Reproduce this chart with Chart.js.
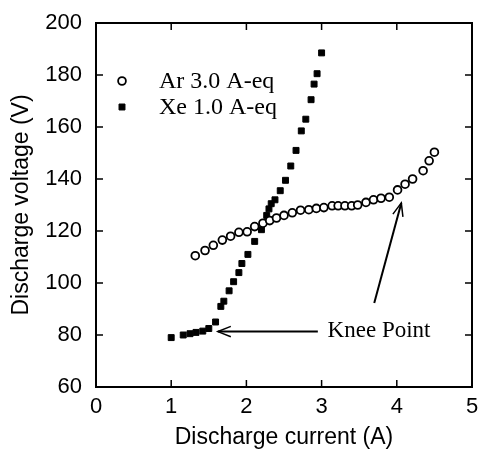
<!DOCTYPE html>
<html>
<head>
<meta charset="utf-8">
<script src="https://cdn.jsdelivr.net/npm/chart.js@4.4.0/dist/chart.umd.min.js"></script>
<style>
  html, body { margin: 0; padding: 0; background: #fff; }
  #wrap { width: 479px; height: 452px; position: relative; }
</style>
</head>
<body>
<div id="wrap"><canvas id="dischargeChart"></canvas></div>
<script>
// Ar 3.0 A-eq (open circles)
const arCurrent = [1.32, 1.45, 1.56, 1.68, 1.79, 1.90, 2.01, 2.11, 2.22, 2.31, 2.40, 2.50, 2.61, 2.72, 2.83, 2.93,
                   3.03, 3.14, 3.22, 3.31, 3.40, 3.48, 3.59, 3.69, 3.79, 3.90, 4.01, 4.11, 4.21, 4.35, 4.43, 4.50];
const arVoltage = [110.5, 112.5, 114.5, 116.5, 118, 119.5, 119.7, 121.7, 123, 124, 125, 126, 127, 128, 128.2, 128.7,
                   129, 129.7, 129.7, 129.7, 129.7, 130, 131, 132, 132.6, 133, 135.8, 138, 140, 143.2, 147, 150.3];

// Xe 1.0 A-eq (filled squares)
const xeCurrent = [1.00, 1.16, 1.25, 1.33, 1.42, 1.50, 1.59, 1.66, 1.70, 1.77, 1.83, 1.90, 1.94, 2.02, 2.11,
                   2.20, 2.27, 2.30, 2.33, 2.38, 2.45, 2.52, 2.59, 2.66, 2.73, 2.79, 2.86, 2.90, 2.94, 3.00];
const xeVoltage = [79, 80, 80.5, 81, 81.5, 82.5, 85, 91, 93, 97, 100.5, 104, 107.5, 111, 116,
                   120.5, 126, 128.5, 130.5, 132, 135.5, 139.5, 145, 151, 158.5, 163, 170.5, 176.5, 180.5, 188.5];

const seriesLabels = ['Ar 3.0 A-eq', 'Xe 1.0 A-eq'];
const xTicks = [0, 1, 2, 3, 4, 5];
const yTicks = [60, 80, 100, 120, 140, 160, 180, 200];

// "Knee Point" annotation, in data units
const kneeText = 'Knee Point';
const kneeTextPos = [3.08, 82.5];
const kneeArrowXe = [[2.95, 81.3], [1.62, 81.3]];   // from, to
const kneeArrowAr = [[3.70, 92.3], [4.06, 130.8]];

function toPoints(xs, ys) {
    return xs.map((x, i) => ({ x: x, y: ys[i] }));
}

// Frame, inward ticks, legend and annotation
const decorPlugin = {
    id: 'decor',
    afterDraw(chart) {
        const ctx = chart.ctx;
        const area = chart.chartArea;
        const xs = chart.scales.x;
        const ys = chart.scales.y;
        ctx.save();
        ctx.strokeStyle = '#000';
        ctx.lineWidth = 2;
        ctx.strokeRect(area.left, area.top, area.right - area.left, area.bottom - area.top);

        // inner tick marks on all four sides
        ctx.lineWidth = 1.5;
        const tl = 7;
        ctx.beginPath();
        xTicks.forEach(v => {
            const px = xs.getPixelForValue(v);
            ctx.moveTo(px, area.bottom); ctx.lineTo(px, area.bottom - tl);
            ctx.moveTo(px, area.top); ctx.lineTo(px, area.top + tl);
        });
        yTicks.forEach(v => {
            const py = ys.getPixelForValue(v);
            ctx.moveTo(area.left, py); ctx.lineTo(area.left + tl, py);
            ctx.moveTo(area.right, py); ctx.lineTo(area.right - tl, py);
        });
        ctx.stroke();

        // legend inside plot
        ctx.font = '24px "Liberation Serif", "Times New Roman", serif';
        ctx.textBaseline = 'middle';
        chart.data.datasets.forEach((ds, i) => {
            const ly = area.top + 58 + i * 26;
            const lx = area.left + 26;
            ctx.fillStyle = ds.backgroundColor;
            ctx.strokeStyle = '#000';
            ctx.lineWidth = ds.borderWidth;
            Chart.helpers.drawPoint(ctx, {
                pointStyle: ds.pointStyle,
                radius: ds.pointRadius,
                borderWidth: ds.borderWidth
            }, lx, ly);
            ctx.fillStyle = '#000';
            ctx.fillText(ds.label, area.left + 63, ly + 1);
        });

        // knee point text and arrows
        ctx.font = '23px "Liberation Serif", "Times New Roman", serif';
        ctx.textBaseline = 'alphabetic';
        ctx.fillText(kneeText, xs.getPixelForValue(kneeTextPos[0]), ys.getPixelForValue(kneeTextPos[1]) + 8);

        [kneeArrowXe, kneeArrowAr].forEach(arr => {
            const x0 = xs.getPixelForValue(arr[0][0]);
            const y0 = ys.getPixelForValue(arr[0][1]);
            const x1 = xs.getPixelForValue(arr[1][0]);
            const y1 = ys.getPixelForValue(arr[1][1]);
            const ang = Math.atan2(y1 - y0, x1 - x0);
            ctx.strokeStyle = '#000';
            ctx.lineWidth = 2;
            ctx.beginPath();
            ctx.moveTo(x0, y0);
            ctx.lineTo(x1, y1);
            ctx.stroke();
            ctx.lineWidth = 1.5;
            ctx.beginPath();
            ctx.moveTo(x1 - 14 * Math.cos(ang - 0.38), y1 - 14 * Math.sin(ang - 0.38));
            ctx.lineTo(x1, y1);
            ctx.lineTo(x1 - 14 * Math.cos(ang + 0.38), y1 - 14 * Math.sin(ang + 0.38));
            ctx.stroke();
        });
        ctx.restore();
    }
};

const sansFont = '"Liberation Sans", Arial, Helvetica, sans-serif';

const ctx = document.getElementById('dischargeChart').getContext('2d');
const dischargeChart = new Chart(ctx, {
    type: 'scatter',
    data: {
        datasets: [
            {
                label: seriesLabels[0],
                data: toPoints(arCurrent, arVoltage),
                pointStyle: 'circle',
                pointRadius: 3.9,
                borderWidth: 1.8,
                borderColor: '#000',
                backgroundColor: '#fff'
            },
            {
                label: seriesLabels[1],
                data: toPoints(xeCurrent, xeVoltage),
                pointStyle: 'rect',
                pointRadius: 4.2,
                borderWidth: 1,
                borderColor: '#000',
                backgroundColor: '#000'
            }
        ]
    },
    options: {
        responsive: true,
        maintainAspectRatio: false,
        animation: false,
        layout: { padding: { left: 0, top: 23, right: 7, bottom: 0 } },
        scales: {
            x: {
                type: 'linear',
                min: 0,
                max: 5,
                afterFit: s => { s.height = 65; s.paddingLeft = 0; s.paddingRight = 0; },
                afterBuildTicks: s => { s.ticks = xTicks.map(v => ({ value: v })); },
                border: { display: false },
                grid: { display: false, drawTicks: false },
                ticks: {
                    color: '#000',
                    padding: 7,
                    font: { family: sansFont, size: 22 }
                },
                title: {
                    display: true,
                    text: 'Discharge current (A)',
                    color: '#000',
                    padding: { top: 0, bottom: 1 },
                    font: { family: sansFont, size: 23 }
                }
            },
            y: {
                min: 60,
                max: 200,
                afterFit: s => { s.width = 96; s.paddingTop = 0; s.paddingBottom = 0; },
                afterBuildTicks: s => { s.ticks = yTicks.map(v => ({ value: v })); },
                border: { display: false },
                grid: { display: false, drawTicks: false },
                ticks: {
                    color: '#000',
                    padding: 14,
                    font: { family: sansFont, size: 22 }
                },
                title: {
                    display: true,
                    text: 'Discharge voltage (V)',
                    color: '#000',
                    padding: { top: 8, bottom: 0 },
                    font: { family: sansFont, size: 23 }
                }
            }
        },
        plugins: {
            legend: { display: false },
            tooltip: { enabled: false }
        }
    },
    plugins: [decorPlugin]
});
</script>
</body>
</html>
